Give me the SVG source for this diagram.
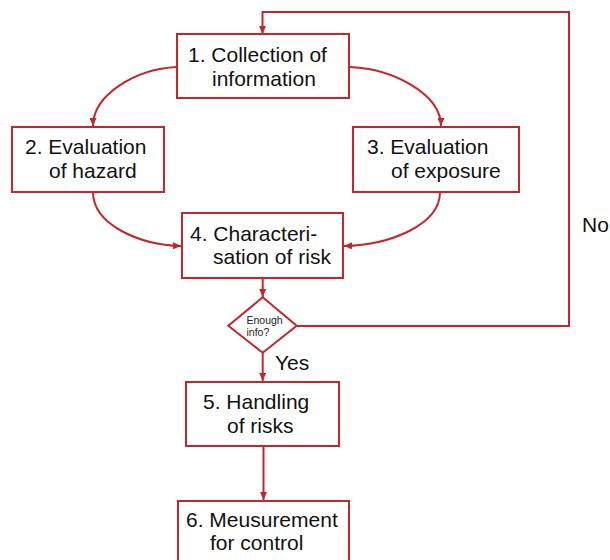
<svg xmlns="http://www.w3.org/2000/svg" width="610" height="560" viewBox="0 0 610 560">
<style>
.box{fill:#fff;stroke:#c5262c;stroke-width:2}
.t{font-family:"Liberation Sans",Arial,sans-serif;font-size:21px;fill:#111}
.s{font-family:"Liberation Sans",Arial,sans-serif;font-size:10.5px;fill:#222}
.c{fill:none;stroke:#c5262c;stroke-width:2}
</style>
<defs>
<marker id="ah" viewBox="0 0 8 7" refX="8" refY="3.5" markerWidth="8" markerHeight="7" markerUnits="userSpaceOnUse" orient="auto">
<path d="M0,0 L8,3.5 L0,7 z" fill="#c5262c"/>
</marker>
</defs>
<rect width="610" height="560" fill="#fff"/>
<g id="connectors">
<path class="c" d="M177,67 C135,69 93,95 93,126" marker-end="url(#ah)"/>
<path class="c" d="M350,67 C395,69 441,95 441,126" marker-end="url(#ah)"/>
<path class="c" d="M93,192 C93,225 140,245 181,246" marker-end="url(#ah)"/>
<path class="c" d="M440,192 C440,225 390,245 344,246" marker-end="url(#ah)"/>
<path class="c" d="M262.7,278 V297" marker-end="url(#ah)"/>
<path class="c" d="M262.7,353 V381" marker-end="url(#ah)"/>
<path class="c" d="M263.5,446 V500" marker-end="url(#ah)"/>
<path class="c" d="M297,326 H569 V12 H262.5 V34" marker-end="url(#ah)"/>
<text class="t" x="582" y="232">No</text>
<text class="t" x="275" y="370">Yes</text>
</g>
<g id="n1">
<rect class="box" x="177" y="34" width="172" height="64"/>
<text class="t" x="188" y="62">1. Collection of</text>
<text class="t" x="212" y="86">information</text>
</g>
<g id="n2">
<rect class="box" x="12" y="127" width="152" height="65"/>
<text class="t" x="25" y="154">2. Evaluation</text>
<text class="t" x="49" y="178">of hazard</text>
</g>
<g id="n3">
<rect class="box" x="353" y="127" width="166" height="65"/>
<text class="t" x="367" y="154">3. Evaluation</text>
<text class="t" x="391" y="178">of exposure</text>
</g>
<g id="n4">
<rect class="box" x="182" y="213" width="161" height="65"/>
<text class="t" x="190" y="241">4. Characteri-</text>
<text class="t" x="213" y="264">sation of risk</text>
</g>
<g id="decision">
<path class="box" d="M262.7,297.3 L296.7,325.7 L262.7,352.7 L228.3,325.7 Z"/>
<text class="s" x="246.5" y="324">Enough</text>
<text class="s" x="246.5" y="335.5">info?</text>
</g>
<g id="n5">
<rect class="box" x="186" y="382" width="153" height="64"/>
<text class="t" x="203" y="409">5. Handling</text>
<text class="t" x="227" y="433">of risks</text>
</g>
<g id="n6">
<rect class="box" x="178" y="501" width="171" height="80"/>
<text class="t" x="186" y="527">6. Meusurement</text>
<text class="t" x="210" y="550">for control</text>
</g>
</svg>
